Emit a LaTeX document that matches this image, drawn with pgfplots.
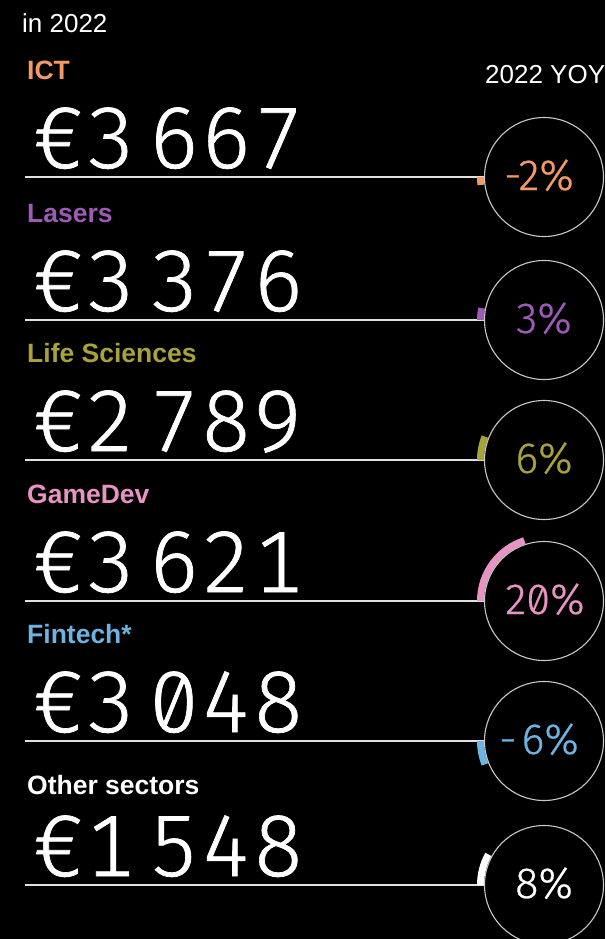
\documentclass[border=0pt]{standalone}
\usepackage{pgfplots}
\pgfplotsset{compat=1.18}
\usepackage{fontspec}
\setmainfont{Liberation Sans}
\newfontfamily\valfont{Fira Sans Light}[Numbers={Monospaced,SlashedZero}, LetterSpace=4, FakeBold=0.8]
\newfontfamily\pctfont{Fira Sans Light}[Numbers={Proportional,SlashedZero}, FakeBold=0.6]
\definecolor{cict}{HTML}{F39B63}
\definecolor{clas}{HTML}{9C5BB4}
\definecolor{clif}{HTML}{A8A23A}
\definecolor{cgam}{HTML}{E793C3}
\definecolor{cfin}{HTML}{6DB3E3}
\definecolor{coth}{HTML}{FFFFFF}
\definecolor{circg}{HTML}{C8C8C8}
\definecolor{linec}{HTML}{E0E0E0}
\newcommand{\lab}{\bfseries\fontsize{26.5}{30}\selectfont}
\newcommand{\val}{\valfont\fontsize{87}{90}\selectfont}
\newcommand{\pct}{\pctfont\fontsize{43.5}{46}\selectfont}
\newcommand{\V}[2]{€\hspace{4pt}#1\hspace{15pt}#2}
\begin{document}
\begin{tikzpicture}
\fill[black] (0,0) rectangle (605pt,939pt);
\begin{axis}[x=1pt, y=1pt, y dir=reverse, xmin=0, xmax=605, ymin=0, ymax=939,
  hide axis, clip=false]
% underlines
\addplot[linec, line width=1.1pt] coordinates {(25,177) (484,177)};
\addplot[linec, line width=1.1pt] coordinates {(25,320) (484,320)};
\addplot[linec, line width=1.1pt] coordinates {(25,460) (484,460)};
\addplot[linec, line width=1.1pt] coordinates {(25,601) (484,601)};
\addplot[linec, line width=1.1pt] coordinates {(25,741) (484,741)};
\addplot[linec, line width=1.1pt] coordinates {(25,885) (484,885)};
% circles
\addplot[only marks, mark=o, mark size=59.5pt, mark options={draw=circg, line width=1.1pt}]
  coordinates {(544,177) (544,320) (544,460) (544,601) (544,741) (544,885)};
% YOY arcs (delta = -3.6 * pct)
\draw[cict, line width=7pt] (axis cs:480.5,177) arc[start angle=180, delta angle={-3.6*(-2)}, radius=63.5pt];
\draw[clas, line width=7pt] (axis cs:480.5,320) arc[start angle=180, delta angle={-3.6*(3)}, radius=63.5pt];
\draw[clif, line width=7pt] (axis cs:480.5,460) arc[start angle=180, delta angle={-3.6*(6)}, radius=63.5pt];
\draw[cgam, line width=7pt] (axis cs:480.5,601) arc[start angle=180, delta angle={-3.6*(20)}, radius=63.5pt];
\draw[cfin, line width=7pt] (axis cs:480.5,741) arc[start angle=180, delta angle={-3.6*(-6)}, radius=63.5pt];
\draw[coth, line width=7pt] (axis cs:480.5,885) arc[start angle=180, delta angle={-3.6*(8)}, radius=63.5pt];
% header
\node[anchor=base west, text=white, font=\fontsize{26}{30}\selectfont, inner sep=0pt] at (axis cs:22,33) {in 2022};
\node[anchor=base west, text=white, font=\fontsize{26}{30}\selectfont, inner sep=0pt] at (axis cs:485,84) {2022 YOY};
% labels
\node[anchor=base west, text=cict, font=\lab, inner sep=0pt] at (axis cs:27,79) {ICT};
\node[anchor=base west, text=clas, font=\lab, inner sep=0pt] at (axis cs:27,222) {Lasers};
\node[anchor=base west, text=clif, font=\lab, inner sep=0pt] at (axis cs:27,362) {Life Sciences};
\node[anchor=base west, text=cgam, font=\lab, inner sep=0pt] at (axis cs:27,503) {GameDev};
\node[anchor=base west, text=cfin, font=\lab, inner sep=0pt] at (axis cs:27,643) {Fintech*};
\node[anchor=base west, text=coth, font=\lab, inner sep=0pt] at (axis cs:27,794) {Other sectors};
% values
\node[anchor=base west, text=white, font=\val, inner sep=0pt] at (axis cs:33,168) {\V{3}{667}};
\node[anchor=base west, text=white, font=\val, inner sep=0pt] at (axis cs:33,311) {\V{3}{376}};
\node[anchor=base west, text=white, font=\val, inner sep=0pt] at (axis cs:33,451) {\V{2}{789}};
\node[anchor=base west, text=white, font=\val, inner sep=0pt] at (axis cs:33,592) {\V{3}{621}};
\node[anchor=base west, text=white, font=\val, inner sep=0pt] at (axis cs:33,732) {\V{3}{048}};
\node[anchor=base west, text=white, font=\val, inner sep=0pt] at (axis cs:33,876) {\V{1}{548}};
% percentages
\node[anchor=base, text=cict, font=\pct, inner sep=0pt] at (axis cs:539,190) {-2\%};
\node[anchor=base, text=clas, font=\pct, inner sep=0pt] at (axis cs:544,333) {3\%};
\node[anchor=base, text=clif, font=\pct, inner sep=0pt] at (axis cs:544,473) {6\%};
\node[anchor=base, text=cgam, font=\pct, inner sep=0pt] at (axis cs:545,614) {20\%};
\node[anchor=base, text=cfin, font=\pct, inner sep=0pt] at (axis cs:539,754) {-\hspace{5pt}6\%};
\node[anchor=base, text=coth, font=\pct, inner sep=0pt] at (axis cs:544,898) {8\%};
\end{axis}
\pgfresetboundingbox
\path[use as bounding box] (0,0) rectangle (605pt,939pt);
\end{tikzpicture}
\end{document}
